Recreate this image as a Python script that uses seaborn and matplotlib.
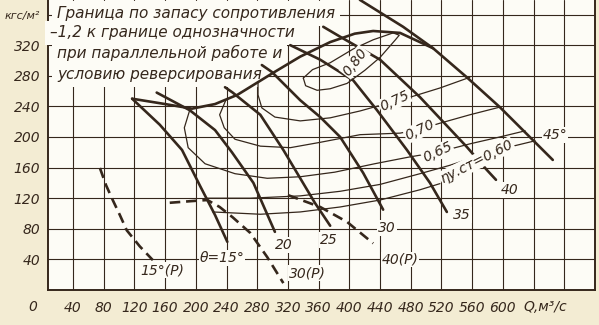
import matplotlib
matplotlib.use("Agg")
import matplotlib.pyplot as plt
import matplotlib.transforms as mtrans
import seaborn as sns
from matplotlib import font_manager

# ---------------- data: Q (m3/s) and P (kgf/m2) ----------------
# blade-angle pressure characteristics (solid, thick)
q15 = [117, 153, 182, 205, 225, 241]
p15 = [250, 216, 183, 137, 98, 63]
q20 = [149, 192, 225, 247, 275, 303]
p20 = [258, 235, 209, 180, 140, 76]
q25 = [238, 248, 284, 314, 336, 355, 375]
p25 = [265, 258, 229, 183, 146, 114, 84]
q30 = [286, 299, 336, 362, 388, 418, 444]
p30 = [294, 285, 248, 226, 200, 153, 105]
q35 = [323, 362, 405, 436, 475, 505, 527]
p35 = [320, 301, 274, 235, 183, 140, 102]
q40 = [366, 388, 440, 492, 553, 579, 591]
p40 = [344, 331, 301, 252, 187, 157, 144]
q45 = [405, 414, 470, 509, 553, 596, 635, 665]
p45 = [392, 379, 344, 316, 278, 239, 200, 170]

# stability boundary (thick)
qb = [117, 160, 195, 225, 254, 301, 336, 375, 407, 431, 466, 509]
pb = [250, 243, 237, 243, 255, 284, 305, 324, 335, 338.5, 336, 316]

# reverse-mode characteristics (dashed)
q15r = [75, 83, 92, 101, 110, 127, 144]
p15r = [159.5, 137, 117, 98, 78, 57, 39]
q30r = [166, 192, 215, 231, 248, 271, 293, 314]
p30r = [114, 116, 117.6, 108.5, 95, 74.5, 43, 9]
q40r = [320, 362, 397, 431]
p40r = [124, 108.5, 89, 61]

# static efficiency contours (thin)
q80 = [340, 352, 375, 405, 431, 457, 465, 460, 440, 420, 397, 375, 358, 343, 340]
p80 = [277, 288, 297, 315, 327, 336, 333, 327, 304, 287, 270, 263, 261, 267, 277]
q75 = [281, 281, 286, 303, 336, 375, 414, 446, 476, 518, 557]
p75 = [272, 255, 238, 226, 221, 225, 234, 243, 251, 264, 278]
q70 = [239, 231, 237, 251, 284, 323, 362, 414, 466, 492, 518, 557, 596]
p70 = [248, 229, 212, 197, 188, 186, 193, 203, 205, 210, 218, 229, 239]
q65 = [192, 185, 190, 212, 251, 293, 336, 381, 433, 479, 515, 557, 596, 629]
p65 = [235, 212, 186, 165, 152, 146, 148, 154, 165, 174, 180, 191, 200, 208]
q60 = [215, 271, 336, 388, 440, 492, 531, 570, 609, 642]
p60 = [120, 120, 123, 129, 138, 152, 163, 176, 187, 195]
q55 = [222, 284, 336, 388, 440, 492, 518]
p55 = [102, 99, 102, 108.5, 117.6, 131, 139]

# tick labels
x_ticks = list(range(40, 720, 40))
x_labels = [str(v) if v <= 600 else "" for v in x_ticks]
y_ticks = list(range(40, 400, 40))
y_labels = [str(v) for v in y_ticks[:-1]] + ["кгс/м²"]

# curve labels: (text, Q, P, rotation)
curve_labels = [
    ("θ=15°", 234, 42, 0), ("20", 314, 59, 0), ("25", 373, 65, 0),
    ("30", 449, 81, 0), ("35", 547, 98, 0), ("40", 609, 131, 0),
    ("45°", 668, 203, 0), ("15°(P)", 156, 26, 0), ("30(P)", 345, 22, 0),
    ("40(P)", 466, 40, 0), ("0,80", 407, 298, 52), ("0,75", 459, 247, 25),
    ("0,70", 492, 209, 25), ("0,65", 515, 180, 25), ("ηу.ст=0,60", 566, 168, 27),
]
note_lines = [
    ("Граница по запасу сопротивления", 19, 361),
    ("–1,2 к границе однозначности", 10, 336),
    ("при параллельной работе и", 19, 310),
    ("условию реверсирования", 19, 281),
]

# ---------------- style ----------------
ink = "#35271c"
sns.set_style("white")
names = {f.name for f in font_manager.fontManager.ttflist}
narrow = "Liberation Sans Narrow" in names
num_family = ["Liberation Sans Narrow", "DejaVu Sans"] if narrow else ["DejaVu Sans"]
num_size = 12.5 if narrow else 10
plt.rcParams["font.family"] = ["DejaVu Sans"]

fig = plt.figure(figsize=(5.99, 3.25), dpi=100, facecolor="#f3ecd3")
ax = fig.add_axes([48 / 599, 35 / 325, 547 / 599, 290 / 325])
ax.set_facecolor("#fdfcf6")
ax.set_xlim(7.4, 720)
ax.set_ylim(0, 379)

ax.set_xticks(x_ticks)
ax.set_xticklabels(x_labels, fontfamily=num_family, fontstyle="italic",
                   fontsize=num_size, color=ink)
ax.set_yticks(y_ticks)
ax.set_yticklabels(y_labels, fontfamily=num_family, fontstyle="italic",
                   fontsize=num_size, color=ink)
ax.get_yticklabels()[-1].set_fontsize(num_size * 0.8)
ax.tick_params(axis="x", length=0, pad=8)
ax.tick_params(axis="y", length=4, width=1, color=ink, pad=1.5)
ax.grid(True, color=ink, linewidth=0.8)
ax.set_axisbelow(True)
for side in ("left", "bottom", "right"):
    ax.spines[side].set_color(ink)
    ax.spines[side].set_linewidth(1.4)
ax.spines["top"].set_visible(False)


def curve(q, p, lw, ls="-"):
    sns.lineplot(x=q, y=p, sort=False, estimator=None, color=ink,
                 linewidth=lw, linestyle=ls, ax=ax, zorder=4)


for q, p in [(q15, p15), (q20, p20), (q25, p25), (q30, p30),
             (q35, p35), (q40, p40), (q45, p45), (qb, pb)]:
    curve(q, p, 1.9)
for q, p in [(q15r, p15r), (q30r, p30r), (q40r, p40r)]:
    curve(q, p, 1.9, (0, (4, 2.2)))
for q, p in [(q80, p80), (q75, p75), (q70, p70), (q65, p65), (q60, p60), (q55, p55)]:
    curve(q, p, 0.9)

white = dict(facecolor="#fdfcf6", edgecolor="none", pad=0.6)
for txt, q, p, rot in curve_labels:
    ax.text(q, p, txt, ha="center", va="center", rotation=rot,
            fontfamily=num_family, fontstyle="italic", fontsize=num_size,
            color=ink, zorder=6, bbox=white)

for txt, q, p in note_lines:
    ax.text(q, p, txt, ha="left", va="center", fontstyle="italic",
            fontsize=11, color=ink, zorder=3, clip_on=False,
            bbox=dict(facecolor="#fdfcf6", edgecolor="none", pad=3.5))

bt = mtrans.blended_transform_factory(ax.transData, ax.transAxes)
ax.text(-12, -0.06, "0", transform=bt, ha="center", va="center",
        fontfamily=num_family, fontstyle="italic", fontsize=num_size, color=ink,
        clip_on=False)
ax.text(655, -0.06, "Q,м³/с", transform=bt, ha="center", va="center",
        fontfamily=num_family, fontstyle="italic", fontsize=num_size, color=ink,
        clip_on=False)

fig.savefig("out.png", dpi=100, facecolor=fig.get_facecolor())
